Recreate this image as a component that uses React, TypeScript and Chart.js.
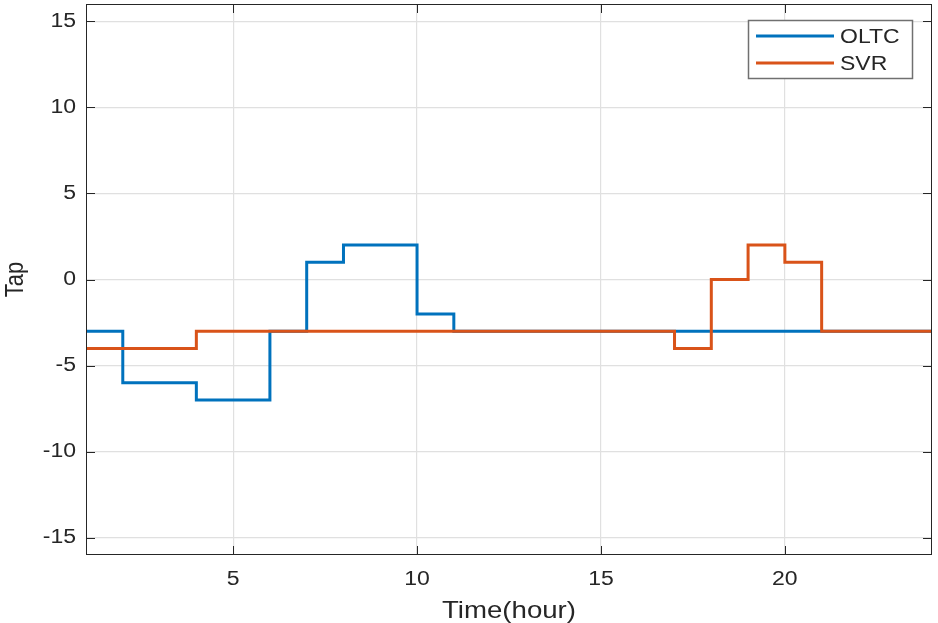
import React, { useEffect, useRef } from "react";
import { Chart, registerables } from "chart.js";

Chart.register(...registerables);

const hours = [1, 2, 3, 4, 5, 6, 7, 8, 9, 10, 11, 12, 13, 14, 15, 16, 17, 18, 19, 20, 21, 22, 23, 24];
const oltc = [-3, -6, -6, -7, -7, -3, 1, 2, 2, -2, -3, -3, -3, -3, -3, -3, -3, -3, -3, -3, -3, -3, -3, -3];
const svr = [-4, -4, -4, -3, -3, -3, -3, -3, -3, -3, -3, -3, -3, -3, -3, -3, -4, 0, 2, 1, -3, -3, -3, -3];
const xTicks = [5, 10, 15, 20];
const yTicks = [-15, -10, -5, 0, 5, 10, 15];
const seriesNames = ["OLTC", "SVR"];
const seriesColors = ["#0072BD", "#D95319"];
const xTitle = "Time(hour)";
const yTitle = "Tap";

const FONT = "'Liberation Sans', Arial, sans-serif";
const AXIS = "#262626";
const SX = 1.15;

function stretchText(ctx: any, text: string, x: number, y: number, align: string, baseline: string, rot = 0) {
  ctx.save();
  ctx.translate(x, y);
  ctx.scale(SX, 1);
  if (rot) ctx.rotate(rot);
  ctx.textAlign = align;
  ctx.textBaseline = baseline;
  ctx.fillText(text, 0, 0);
  ctx.restore();
}

const boxPlugin = {
  id: "matlabBox",
  afterDraw(chart: any) {
    const { ctx, chartArea: a, scales } = chart;
    ctx.save();
    ctx.strokeStyle = AXIS;
    ctx.lineWidth = 1;
    ctx.strokeRect(a.left + 0.5, a.top + 0.5, a.right - a.left - 1, a.bottom - a.top - 1);
    const tl = 9;
    ctx.beginPath();
    for (const v of xTicks) {
      const x = Math.round(scales.x.getPixelForValue(v)) + 0.5;
      ctx.moveTo(x, a.bottom);
      ctx.lineTo(x, a.bottom - tl);
      ctx.moveTo(x, a.top);
      ctx.lineTo(x, a.top + tl);
    }
    for (const v of yTicks) {
      const y = Math.round(scales.y.getPixelForValue(v)) + 0.5;
      ctx.moveTo(a.left, y);
      ctx.lineTo(a.left + tl, y);
      ctx.moveTo(a.right, y);
      ctx.lineTo(a.right - tl, y);
    }
    ctx.stroke();

    // tick labels
    ctx.fillStyle = AXIS;
    ctx.font = `20px ${FONT}`;
    for (const v of xTicks) {
      stretchText(ctx, String(v), scales.x.getPixelForValue(v), a.bottom + 24, "center", "middle");
    }
    for (const v of yTicks) {
      stretchText(ctx, String(v), a.left - 10, scales.y.getPixelForValue(v), "right", "middle");
    }
    // titles
    ctx.font = `24px ${FONT}`;
    stretchText(ctx, xTitle, (a.left + a.right) / 2, 618, "center", "alphabetic");
    ctx.font = `22px ${FONT}`;
    stretchText(ctx, yTitle, 23, (a.top + a.bottom) / 2, "center", "alphabetic", -Math.PI / 2);

    // legend
    const lx = 748, ly = 20, lw = 164, lh = 58;
    ctx.fillStyle = "#ffffff";
    ctx.fillRect(lx, ly, lw, lh);
    ctx.strokeStyle = "#707070";
    ctx.lineWidth = 1.5;
    ctx.strokeRect(lx + 0.5, ly + 0.5, lw, lh);
    ctx.font = `20px ${FONT}`;
    seriesNames.forEach((n, i) => {
      const y = 36 + i * 27;
      ctx.strokeStyle = seriesColors[i];
      ctx.lineWidth = 3;
      ctx.beginPath();
      ctx.moveTo(756, y);
      ctx.lineTo(834, y);
      ctx.stroke();
      ctx.fillStyle = AXIS;
      stretchText(ctx, n, 840, y + 1, "left", "middle");
    });
    ctx.restore();
  },
};

export default function App() {
  const ref = useRef<HTMLCanvasElement>(null);
  useEffect(() => {
    document.body.style.margin = "0";
    const fitX = (s: any) => {
      s.height = 68;
      s.paddingLeft = 0;
      s.paddingRight = 0;
      s.paddingTop = 0;
      s.paddingBottom = 0;
    };
    const fitY = (s: any) => {
      s.width = 86;
      s.paddingLeft = 0;
      s.paddingRight = 0;
      s.paddingTop = 0;
      s.paddingBottom = 0;
    };
    const chart = new Chart(ref.current!, {
      type: "line",
      data: {
        datasets: [
          {
            label: seriesNames[0],
            data: hours.map((h, i) => ({ x: h, y: oltc[i] })),
            borderColor: seriesColors[0],
            borderWidth: 3,
            stepped: "before",
            pointRadius: 0,
            order: 1,
          },
          {
            label: seriesNames[1],
            data: hours.map((h, i) => ({ x: h, y: svr[i] })),
            borderColor: seriesColors[1],
            borderWidth: 3,
            stepped: "before",
            pointRadius: 0,
            order: 0,
          },
        ],
      },
      options: {
        animation: false,
        responsive: false,
        maintainAspectRatio: false,
        layout: { padding: { top: 4, right: 6, left: 0, bottom: 0 } },
        plugins: { legend: { display: false }, tooltip: { enabled: false } },
        scales: {
          x: {
            type: "linear",
            min: 1,
            max: 24,
            afterBuildTicks: (s: any) => {
              s.ticks = xTicks.map((v) => ({ value: v }));
            },
            afterFit: fitX,
            grid: { color: "#e0e0e0", drawTicks: false, lineWidth: 1.2 },
            border: { display: false },
            ticks: { display: false },
            title: { display: false },
          },
          y: {
            type: "linear",
            min: -16,
            max: 16,
            afterBuildTicks: (s: any) => {
              s.ticks = yTicks.map((v) => ({ value: v }));
            },
            afterFit: fitY,
            grid: { color: "#e0e0e0", drawTicks: false, lineWidth: 1.2 },
            border: { display: false },
            ticks: { display: false },
            title: { display: false },
          },
        },
      },
      plugins: [boxPlugin],
    });
    return () => chart.destroy();
  }, []);
  return (
    <div style={{ width: 938, height: 623, position: "relative" }}>
      <canvas ref={ref} width={938} height={623} style={{ display: "block" }} />
    </div>
  );
}
